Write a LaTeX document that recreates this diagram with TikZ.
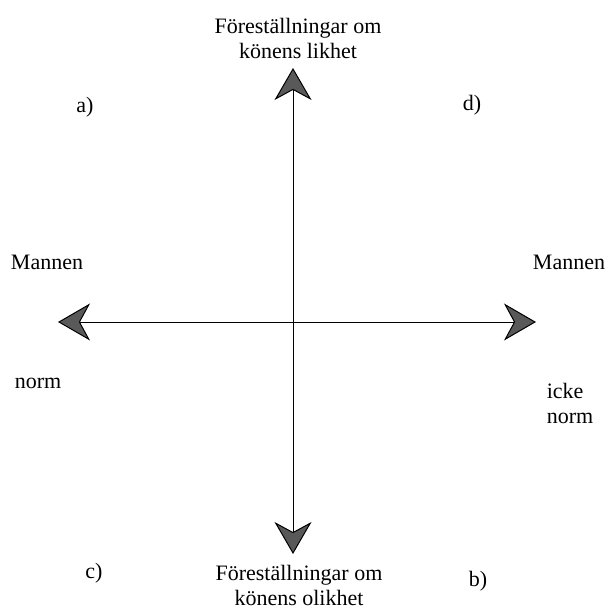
\documentclass[tikz,border=0pt]{standalone}
\usepackage{fontspec}
\setmainfont{Liberation Serif}
\usetikzlibrary{arrows.meta}

\begin{document}
\begin{tikzpicture}[
    x=1pt, y=-1pt,
    font=\fontsize{22}{25}\selectfont,
    axis/.style={draw=black, line width=1pt,
      {Stealth[length=32pt, width=37pt, inset=10pt, fill=black!65, line width=1pt]}-{Stealth[length=32pt, width=37pt, inset=10pt, fill=black!65, line width=1pt]}},
    axislabel/.style={align=center, inner sep=0pt},
    quadrant/.style={inner sep=0pt},
  ]

  % Fix the frame to the reference size.
  \path[use as bounding box] (0,0) rectangle (607,612);

  % Axis end points.
  \coordinate (top) at (293,68);
  \coordinate (bottom) at (293,554);
  \coordinate (west) at (58,322);
  \coordinate (east) at (536,322);

  % Both axes, arrowheads at each end.
  \draw[axis] (bottom) -- (top);
  \draw[axis] (west) -- (east);

  % Axis labels.
  \node[axislabel] (likhet) at (298,38) {Föreställningar om\\könens likhet};
  \node[axislabel] (olikhet) at (299,585) {Föreställningar om\\könens olikhet};
  \node[axislabel] (mannenw) at (47,262) {Mannen};
  \node[axislabel] (norm) at (38,383) {norm};
  \node[axislabel] (mannene) at (569,262) {Mannen};
  \node[axislabel, align=left] (ickenorm) at (570,403) {icke\\norm};

  % Quadrant letters.
  \node[quadrant] (qa) at (85,107) {a)};
  \node[quadrant] (qd) at (472,105) {d)};
  \node[quadrant] (qc) at (94,573) {c)};
  \node[quadrant] (qb) at (478,581) {b)};
\end{tikzpicture}
\end{document}
